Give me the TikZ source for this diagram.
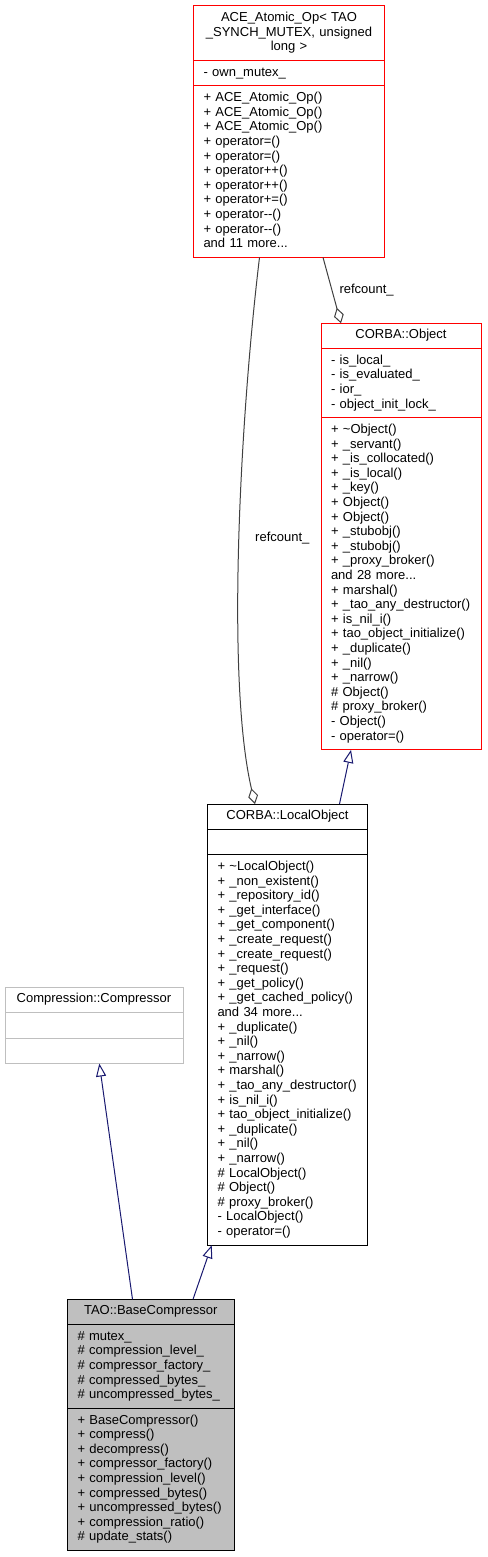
\documentclass[tikz,border=0pt]{standalone}
\usepackage{fontspec}
\setmainfont{Liberation Sans}
\usetikzlibrary{arrows.meta,positioning}
\definecolor{EdgeBlue}{HTML}{191970}
\definecolor{EdgeGrey}{HTML}{404040}
\definecolor{BoxRed}{HTML}{FF0000}
\definecolor{BoxGrey}{HTML}{BFBFBF}
\newcommand\umlfont{\fontsize{13}{14.6}\selectfont}
\tikzset{
  part/.style={draw, line width=1pt, outer sep=0pt, anchor=north west, inner xsep=10pt, inner ysep=5.4pt, text width=#1, align=left, font=\umlfont, execute at begin node=\strut, execute at end node=\strut},
  head/.style={part=#1, align=center},
  redbox/.style={draw=BoxRed},
  greybox/.style={draw=BoxGrey},
  shaded/.style={fill=BoxGrey},
  inherit/.style={-{Triangle[open, length=13pt, width=10pt]}, line width=1pt, draw=EdgeBlue},
  aggr/.style={-{Diamond[open, length=16pt, width=10pt]}, line width=1pt, draw=EdgeGrey},
  lbl/.style={anchor=base west, inner sep=0pt, font=\umlfont}
}
\begin{document}
\begin{tikzpicture}[x=1pt, y=-1pt]
  \useasboundingbox (0,0) rectangle (487,1557);

  % ACE_Atomic_Op
  \node[head=171pt, redbox] (acehead) at (193.5,6) {ACE\_Atomic\_Op< TAO\\\_SYNCH\_MUTEX, unsigned\\long >};
  \node[part=171pt, redbox, below=0pt of acehead] (aceattr) {- own\_mutex\_};
  \node[part=171pt, redbox, below=0pt of aceattr] (aceops) {+ ACE\_Atomic\_Op()\\+ ACE\_Atomic\_Op()\\+ ACE\_Atomic\_Op()\\+ operator=()\\+ operator=()\\+ operator++()\\+ operator++()\\+ operator+=()\\+ operator-{}-()\\+ operator-{}-()\\and 11 more...};

  % CORBA::Object
  \node[head=140pt, redbox] (objhead) at (321,323.3) {CORBA::Object};
  \node[part=140pt, redbox, below=0pt of objhead] (objattr) {- is\_local\_\\- is\_evaluated\_\\- ior\_\\- object\_init\_lock\_};
  \node[part=140pt, redbox, below=0pt of objattr] (objops) {+ \textasciitilde Object()\\+ \_servant()\\+ \_is\_collocated()\\+ \_is\_local()\\+ \_key()\\+ Object()\\+ Object()\\+ \_stubobj()\\+ \_stubobj()\\+ \_proxy\_broker()\\and 28 more...\\+ marshal()\\+ \_tao\_any\_destructor()\\+ is\_nil\_i()\\+ tao\_object\_initialize()\\+ \_duplicate()\\+ \_nil()\\+ \_narrow()\\\# Object()\\\# proxy\_broker()\\- Object()\\- operator=()};

  % CORBA::LocalObject
  \node[head=140pt] (lobjhead) at (207.5,804) {CORBA::LocalObject};
  \node[part=140pt, below=0pt of lobjhead] (lobjattr) {};
  \node[part=140pt, below=0pt of lobjattr] (lobjops) {+ \textasciitilde LocalObject()\\+ \_non\_existent()\\+ \_repository\_id()\\+ \_get\_interface()\\+ \_get\_component()\\+ \_create\_request()\\+ \_create\_request()\\+ \_request()\\+ \_get\_policy()\\+ \_get\_cached\_policy()\\and 34 more...\\+ \_duplicate()\\+ \_nil()\\+ \_narrow()\\+ marshal()\\+ \_tao\_any\_destructor()\\+ is\_nil\_i()\\+ tao\_object\_initialize()\\+ \_duplicate()\\+ \_nil()\\+ \_narrow()\\\# LocalObject()\\\# Object()\\\# proxy\_broker()\\- LocalObject()\\- operator=()};

  % Compression::Compressor
  \node[head=158pt, greybox] (comphead) at (5,987.3) {Compression::Compressor};
  \node[part=158pt, greybox, below=0pt of comphead] (compattr) {};
  \node[part=158pt, greybox, below=0pt of compattr] (compops) {};

  % TAO::BaseCompressor
  \node[head=146.5pt, shaded] (basehead) at (67.5,1299.3) {TAO::BaseCompressor};
  \node[part=146.5pt, shaded, below=0pt of basehead] (baseattr) {\# mutex\_\\\# compression\_level\_\\\# compressor\_factory\_\\\# compressed\_bytes\_\\\# uncompressed\_bytes\_};
  \node[part=146.5pt, shaded, below=0pt of baseattr] (baseops) {+ BaseCompressor()\\+ compress()\\+ decompress()\\+ compressor\_factory()\\+ compression\_level()\\+ compressed\_bytes()\\+ uncompressed\_bytes()\\+ compression\_ratio()\\\# update\_stats()};

  % generalisation
  \draw[inherit] ([xshift=65pt]basehead.north west) -- ([xshift=94.3pt]compops.south west);
  \draw[inherit] ([xshift=125.5pt]basehead.north west) -- ([xshift=4.2pt]lobjops.south west);
  \draw[inherit] ([xshift=132pt]lobjhead.north west) -- ([xshift=30pt]objops.south west);

  % refcount_ members
  \draw[aggr] ([xshift=66pt]aceops.south west) .. controls (240,420) and (226,680) .. ([xshift=47.5pt]lobjhead.north west);
  \draw[aggr] ([xshift=129.5pt]aceops.south west) -- ([xshift=20pt]objhead.north west);
  \node[lbl] (refa) at (255,541) {refcount\_};
  \node[lbl] (refb) at (339.3,293) {refcount\_};
\end{tikzpicture}
\end{document}
